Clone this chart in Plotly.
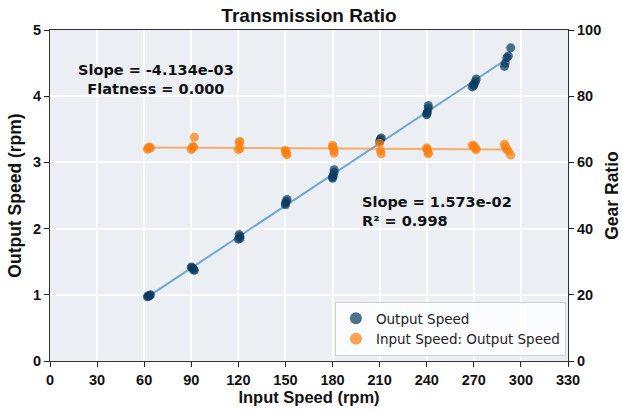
import numpy as np
import plotly.graph_objects as go

# Input speed (rpm) for each measurement
input_speed = [62, 63, 64, 62.5, 63.5,
               90, 90.5, 91, 92, 91.5,
               120.5, 121, 120, 121,
               150, 150.5, 151, 150,
               180, 180.5, 181, 181, 180,
               210, 210.5, 211,
               240, 240.5, 241, 241, 240,
               269, 270, 271, 271.5, 270,
               289.5, 290, 291, 292, 293.5]
# Output speed (rpm)
output_speed = [0.97, 0.98, 1.00, 0.98, 0.99,
                1.42, 1.41, 1.40, 1.37, 1.38,
                1.91, 1.88, 1.84, 1.85,
                2.38, 2.41, 2.44, 2.36,
                2.76, 2.80, 2.85, 2.89, 2.78,
                3.32, 3.35, 3.37,
                3.72, 3.76, 3.82, 3.86, 3.74,
                4.14, 4.18, 4.22, 4.26, 4.16,
                4.45, 4.50, 4.58, 4.61, 4.73]
# Gear ratio (input speed : output speed)
gear_ratio = [64.0, 64.5, 64.3, 64.2, 64.6,
              63.9, 64.3, 64.8, 67.6, 64.6,
              66.0, 66.3, 63.9, 64.2,
              63.6, 62.8, 62.3, 63.3,
              65.2, 64.4, 63.5, 62.8, 64.7,
              65.8, 63.5, 62.6,
              64.4, 63.8, 63.0, 62.6, 64.0,
              65.2, 64.8, 64.2, 63.9, 65.0,
              65.5, 64.8, 64.0, 63.4, 62.2]

x_ticks = [0, 30, 60, 90, 120, 150, 180, 210, 240, 270, 300, 330]

x = np.array(input_speed)
xl = np.array([x.min(), x.max()])
p_out = np.polyfit(x, output_speed, 1)
p_gr = np.polyfit(x, gear_ratio, 1)

fig = go.Figure()

fig.add_trace(go.Scatter(x=xl, y=np.polyval(p_out, xl), mode="lines",
                         line=dict(color="rgba(31,119,180,0.6)", width=2),
                         showlegend=False, hoverinfo="skip"))
fig.add_trace(go.Scatter(x=xl, y=np.polyval(p_gr, xl), mode="lines", yaxis="y2",
                         line=dict(color="rgba(255,127,14,0.6)", width=2),
                         showlegend=False, hoverinfo="skip"))
fig.add_trace(go.Scatter(x=input_speed, y=output_speed, mode="markers",
                         name="Output Speed",
                         marker=dict(color="#0a3a60", size=9, opacity=0.72,
                                     line=dict(width=0))))
fig.add_trace(go.Scatter(x=input_speed, y=gear_ratio, mode="markers", yaxis="y2",
                         name="Input Speed: Output Speed",
                         marker=dict(color="#ff7f0e", size=9, opacity=0.72,
                                     line=dict(width=0))))

tick_font = dict(family="Liberation Sans", size=14.5, color="#111", weight="bold")
xtitle_font = dict(family="Liberation Sans", size=16.5, color="#111", weight="bold")
ytitle_font = dict(family="Liberation Sans", size=17.5, color="#111", weight="bold")

fig.update_layout(
    width=622, height=412,
    margin=dict(l=50, r=54, t=30, b=51, autoexpand=False),
    paper_bgcolor="white",
    plot_bgcolor="#ebeff3",
    title=dict(text="Transmission Ratio", x=(50 + 568) / 2 / 622, xanchor="center",
               y=1 - 15 / 412, yanchor="middle",
               font=dict(family="Liberation Sans", size=19, color="#111", weight="bold")),
    xaxis=dict(range=[0, 330], tickvals=x_ticks, ticks="outside", ticklen=5,
               tickcolor="#222", showline=True, linecolor="#333", linewidth=1.2,
               mirror=True, showgrid=True, gridcolor="white", gridwidth=1.5,
               zeroline=False, tickfont=tick_font, automargin=False,
               title=dict(text="Input Speed (rpm)", font=xtitle_font, standoff=4)),
    yaxis=dict(range=[0, 5], dtick=1, ticks="outside", ticklen=5, tickcolor="#222",
               showline=True, linecolor="#333", linewidth=1.2, automargin=False,
               showgrid=True, gridcolor="white", gridwidth=1.5, zeroline=False,
               tickfont=tick_font,
               title=dict(text="Output Speed (rpm)", font=ytitle_font, standoff=6)),
    yaxis2=dict(range=[0, 100], dtick=20, overlaying="y", side="right",
                ticks="outside", ticklen=5, tickcolor="#222", automargin=False,
                showline=True, linecolor="#333", linewidth=1.2,
                showgrid=False, zeroline=False, tickfont=tick_font,
                title=dict(text="Gear Ratio", font=ytitle_font, standoff=8)),
    legend=dict(x=0.996, y=0.015, xanchor="right", yanchor="bottom",
                bgcolor="rgba(255,255,255,0.8)", bordercolor="#d0d0d0", borderwidth=1,
                font=dict(family="DejaVu Sans", size=13.5, color="#222"),
                itemsizing="constant"),
    annotations=[
        dict(text="Slope = -4.134e-03<br>Flatness = 0.000", xref="paper", yref="paper",
             x=(156 - 50) / 518, y=(361 - 80) / 331, xanchor="center", yanchor="middle",
             showarrow=False, align="center",
             font=dict(family="DejaVu Sans", size=14.5, color="#111", weight="bold")),
        dict(text="Slope = 1.573e-02<br>R² = 0.998", xref="paper", yref="paper",
             x=(360 - 50) / 518, y=(361 - 211) / 331, xanchor="left", yanchor="middle",
             showarrow=False, align="left",
             font=dict(family="DejaVu Sans", size=14.5, color="#111", weight="bold")),
    ],
)

fig.write_html("out.html")
